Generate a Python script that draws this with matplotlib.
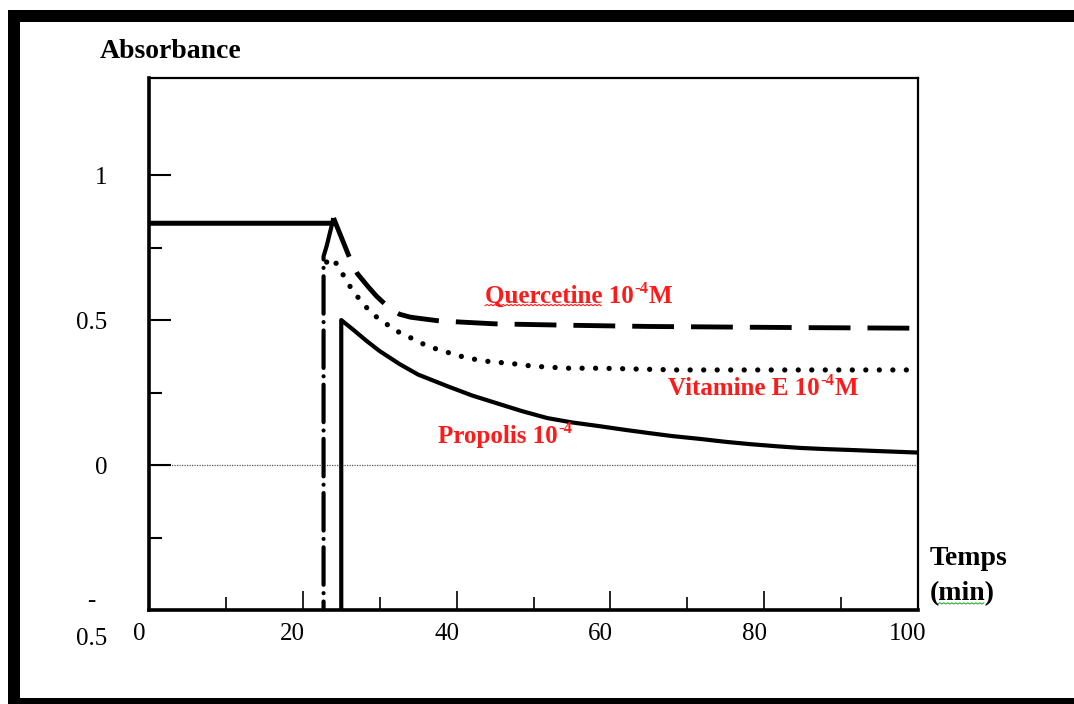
import numpy as np
import matplotlib.pyplot as plt
import matplotlib.transforms as mtransforms
from matplotlib.patches import Rectangle
from matplotlib.lines import Line2D

plt.rcParams['font.family'] = ['Liberation Serif', 'DejaVu Serif']

# control (before injection)
temps_ctrl = [0, 23.9, 24.0]
abs_ctrl = [0.834, 0.834, 0.852]

# Quercetine 10-4 M
temps_querc = [22.7, 22.7, 23.1, 24.0, 26.1, 27.1, 28.5, 29.6, 30.7, 31.6, 32.6, 34.0, 36.0,
               37.8, 45, 55, 65, 75, 85, 100]
abs_querc = [-0.6, 0.72, 0.755, 0.852, 0.714, 0.66, 0.615, 0.582, 0.555, 0.535, 0.52, 0.51,
             0.503, 0.497, 0.487, 0.482, 0.478, 0.476, 0.474, 0.472]

# Vitamine E 10-4 M
temps_vit = [23.1, 23.9, 24.8, 26.5, 29.0, 30.4, 31.7, 33.3, 34.9, 36.2, 37.8, 39.5,
             41.4, 43.0, 44.7, 46.6, 49.9, 54.4, 58.6, 68.7, 100]
abs_vit = [0.70, 0.714, 0.676, 0.60, 0.521, 0.497, 0.469, 0.448, 0.428, 0.41, 0.397, 0.383,
           0.369, 0.362, 0.355, 0.352, 0.341, 0.334, 0.334, 0.328, 0.328]

# Propolis 10-4
temps_prop = [25.0, 25.0, 26.5, 28.3, 30.0, 32.6, 35.0, 38.8, 42.0, 45.6, 48.5, 51.8, 55.0,
              58.6, 62.0, 65.1, 68.0, 71.7, 75.0, 78.2, 81.5, 84.7, 88.0, 91.2, 95.0, 100]
abs_prop = [-0.6, 0.5, 0.468, 0.428, 0.393, 0.348, 0.312, 0.272, 0.24, 0.21, 0.186, 0.162,
            0.147, 0.134, 0.121, 0.11, 0.1, 0.09, 0.08, 0.072, 0.065, 0.059, 0.055, 0.052,
            0.048, 0.043]

x_ticks = [0, 20, 40, 60, 80, 100]
x_labels = ['0', '20', '40', '60', '80', '100']
y_ticks = [-0.5, 0, 0.5, 1]
y_labels = ['-\n0.5', '0', '0.5', '1']

fig = plt.figure(figsize=(10.74, 7.04), dpi=100)
ax = fig.add_axes([149 / 1074, 94 / 704, 769 / 1074, 532 / 704])

ax.axhline(0, color='#555555', lw=0.9, ls=(0, (1, 1)), zorder=1)

ax.plot(temps_ctrl, abs_ctrl, color='black', lw=3.6, solid_capstyle='butt', zorder=3)
ax.plot(temps_querc[:4], abs_querc[:4], color='black', lw=3.0,
        ls=(0, (9, 2, 0.01, 2)), dash_capstyle='round', zorder=3)
ax.plot(temps_querc[3:], abs_querc[3:], color='black', lw=3.5,
        ls=(0, (8.6, 3.5)), dash_capstyle='butt', zorder=3)
ax.plot(temps_vit, abs_vit, color='black', lw=3.8,
        ls=(0, (0.01, 2.55)), dash_capstyle='round', zorder=3)
ax.plot(temps_prop, abs_prop, color='black', lw=3.0, zorder=3)

ax.set_xlim(0, 100)
ax.set_ylim(-0.5, 1.335)

ax.set_xticks(x_ticks)
ax.set_xticks(np.arange(10, 100, 20), minor=True)
ax.set_xticklabels(x_labels, fontsize=18)
ax.set_yticks(y_ticks)
ax.set_yticks([-0.25, 0.25, 0.75], minor=True)
ax.set_yticklabels(y_labels, fontsize=18, ha='right', multialignment='center',
                   linespacing=1.9)

ax.tick_params(axis='x', which='major', direction='in', length=13.5, width=1.2, pad=9)
ax.tick_params(axis='x', which='minor', direction='in', length=9.5, width=1.2)
ax.tick_params(axis='y', which='major', direction='in', length=15.8, width=1.5, pad=30)
ax.tick_params(axis='y', which='minor', direction='in', length=9.4, width=1.5)

shift = mtransforms.ScaledTranslation(-10 / 100, 0, fig.dpi_scale_trans)
for lbl in ax.get_xticklabels():
    lbl.set_transform(lbl.get_transform() + shift)

for side in ['left', 'bottom']:
    ax.spines[side].set_linewidth(2.6)
for side in ['top', 'right']:
    ax.spines[side].set_linewidth(1.6)

red = '#ff1a1a'


def conc_label(x, y, name, tail):
    t1 = ax.text(x, y, name + ' 10', color=red, fontsize=18, fontweight='bold',
                 va='baseline')
    t2 = ax.annotate('-4', xy=(1, 0), xycoords=t1, xytext=(0.5, 8), textcoords='offset points',
                     color=red, fontsize=12, fontweight='bold', va='bottom')
    if tail:
        ax.annotate(tail, xy=(1, 0), xycoords=(t2, t1), xytext=(0.5, 0),
                    textcoords='offset points', color=red, fontsize=18,
                    fontweight='bold', va='bottom')
    return t1


t_querc = conc_label(43.7, 0.56, 'Quercetine', 'M')
conc_label(67.5, 0.24, 'Vitamine E', 'M')
conc_label(37.6, 0.076, 'Propolis', '')

fig.text(100 / 1074, 1 - 58 / 704, 'Absorbance', fontsize=20, fontweight='bold')
fig.text(930 / 1074, 1 - 565 / 704, 'Temps', fontsize=20, fontweight='bold')
t_min = fig.text(930 / 1074, 1 - 600 / 704, '(min)', fontsize=20, fontweight='bold')

# outer black frame
for x0, y0, w, h in [(8, 682, 1066, 12), (8, 0, 12, 694), (8, 0, 1066, 6)]:
    fig.add_artist(Rectangle((x0 / 1074, y0 / 704), w / 1074, h / 704,
                             transform=fig.transFigure, color='black', lw=0))

# spell-check squiggles
fig.canvas.draw()
renderer = fig.canvas.get_renderer()


def squiggle(txt, f0, f1, color):
    bb = txt.get_window_extent(renderer)
    xs = np.arange(bb.x0 + f0 * bb.width, bb.x0 + f1 * bb.width, 2.0)
    ys = bb.y0 + 2 + 1.2 * (np.arange(len(xs)) % 2)
    fig.add_artist(Line2D(xs / 1074, ys / 704, transform=fig.transFigure,
                          color=color, lw=0.8))


squiggle(t_querc, 0.0, 0.78, red)
squiggle(t_min, 0.12, 0.85, '#33aa33')

fig.savefig('out.png', dpi=100)
